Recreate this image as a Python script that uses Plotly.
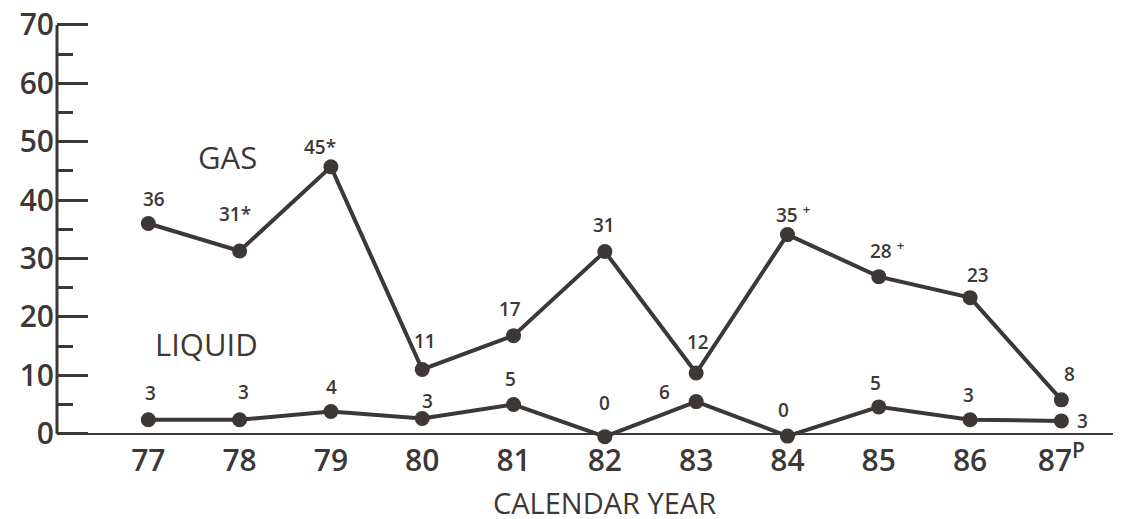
import plotly.graph_objects as go

years = [77, 78, 79, 80, 81, 82, 83, 84, 85, 86, 87]
year_labels = ["77", "78", "79", "80", "81", "82", "83", "84", "85", "86", "87<sup>P</sup>"]

gas_values = [36.0, 31.3, 45.7, 11.0, 16.8, 31.2, 10.4, 34.1, 26.9, 23.3, 5.8]
gas_labels = ["36", "31*", "45*", "11", "17", "31", "12", "35 <sup>+</sup>", "28 <sup>+</sup>", "23", "8"]

liquid_values = [2.4, 2.4, 3.8, 2.6, 5.0, -0.5, 5.5, -0.4, 4.6, 2.4, 2.2]
liquid_labels = ["3", "3", "4", "3", "5", "0", "6", "0", "5", "3", "3"]

y_ticks = [0, 10, 20, 30, 40, 50, 60, 70]

# label offsets in pixels (dx, dy)
gas_label_shift = [(6, 24), (-5, 37), (-11, 20), (3, 29), (-4, 27), (-1, 27), (2, 31), (6, 21), (8, 27), (8, 23), (8, 26)]
liquid_label_shift = [(2, 27), (4, 28), (1, 25), (5, 18), (-3, 26), (0, 34), (-32, 10), (-4, 26), (-3, 24), (-2, 25), (21, 0)]

INK = "#3d3836"
FONT = "Open Sans"

fig = go.Figure()

for vals in (gas_values, liquid_values):
    fig.add_trace(go.Scatter(
        x=years, y=vals, mode="lines+markers",
        line=dict(color=INK, width=4),
        marker=dict(color=INK, size=15),
        cliponaxis=False, showlegend=False, hoverinfo="skip",
    ))

annotations = []
for x, y, t, (dx, dy) in zip(years, gas_values, gas_labels, gas_label_shift):
    annotations.append(dict(x=x, y=y, text=t, showarrow=False, xshift=dx, yshift=dy,
                            font=dict(family=FONT, size=19, color=INK, weight=600)))
for x, y, t, (dx, dy) in zip(years, liquid_values, liquid_labels, liquid_label_shift):
    annotations.append(dict(x=x, y=y, text=t, showarrow=False, xshift=dx, yshift=dy,
                            font=dict(family=FONT, size=19, color=INK, weight=600)))

annotations.append(dict(x=77.87, y=47.4, text="GAS", showarrow=False,
                        font=dict(family=FONT, size=31, color=INK, weight=500)))
annotations.append(dict(x=77.64, y=15.4, text="LIQUID", showarrow=False,
                        font=dict(family=FONT, size=31, color=INK, weight=500)))
annotations.append(dict(x=82, y=0, yanchor="middle", yshift=-69,
                        text="CALENDAR YEAR", showarrow=False,
                        font=dict(family=FONT, size=29, color=INK, weight=500)))

fig.update_layout(
    # the page body adds an 8px offset, so the figure is sized to fill the rest of the window
    width=1113, height=511,
    margin=dict(l=49, r=3, t=14, b=80),
    paper_bgcolor="white", plot_bgcolor="white",
    annotations=annotations,
    shapes=[dict(type="line", xref="paper", x0=0, x1=0, yref="y", y0=0, y1=70,
                 line=dict(color=INK, width=3), layer="above")],
    xaxis=dict(
        range=[76.0, 87.62], tickvals=years, ticktext=year_labels,
        showgrid=False, zeroline=False, showline=False, automargin=False,
        ticks="", ticklabelstandoff=1,
        tickfont=dict(family=FONT, size=30, color=INK, weight=600),
    ),
    yaxis=dict(
        range=[-0.9, 70.5], tickvals=y_ticks, automargin=False,
        showgrid=False, zeroline=True, zerolinecolor=INK, zerolinewidth=2,
        showline=False,
        ticks="inside", ticklen=31, tickwidth=3, tickcolor=INK,
        minor=dict(ticks="inside", ticklen=16, tickwidth=3, tickcolor=INK, dtick=5, showgrid=False),
        ticklabelstandoff=2, ticklabeloverflow="allow",
        tickfont=dict(family=FONT, size=30, color=INK, weight=600),
    ),
)

fig.write_html("out.html")
